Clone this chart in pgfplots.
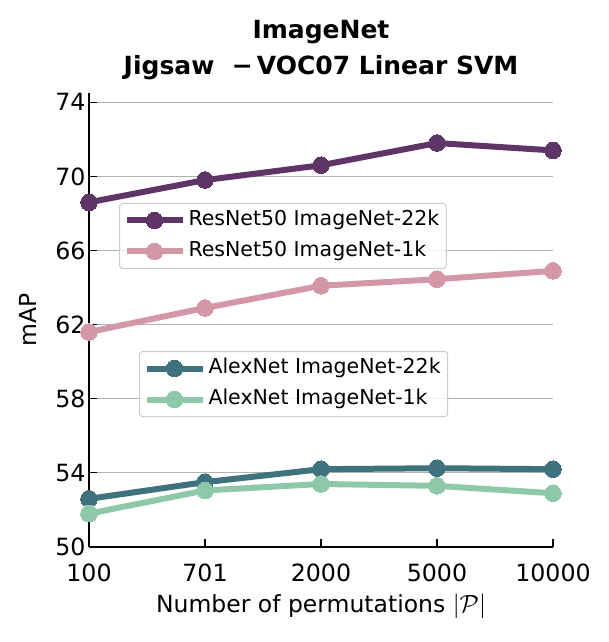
\documentclass[border=0pt]{standalone}
\usepackage{pgfplots}
\pgfplotsset{compat=1.18}
\usepackage{fontspec}
\setmainfont{DejaVu Sans}
\definecolor{cpurple}{HTML}{5E3566}
\definecolor{cpink}{HTML}{D497A7}
\definecolor{cteal}{HTML}{3E727E}
\definecolor{cgreen}{HTML}{8DC9A8}
\pgfplotsset{
  mylegend/.style={
    legend cell align=left,
    legend style={
      font=\fontsize{20.5}{24}\selectfont,
      draw=black!20, line width=1pt, rounded corners=3pt,
      fill=white, fill opacity=0.8, text opacity=1, draw opacity=1,
      inner xsep=4pt, inner ysep=4pt, row sep=5pt,
      nodes={text height=15pt, text depth=5pt, inner sep=3pt},
    },
    legend image code/.code={\draw[##1, mark repeat=2, mark phase=2, fill opacity=1, draw opacity=1] plot coordinates {(0pt,0pt) (28pt,0pt) (56pt,0pt)};},
  },
  myplot/.style={line width=6pt, mark=*, mark size=8.3pt, color=#1, mark options={solid, fill=#1, draw=#1, line width=0pt}},
}
\begin{document}
\begin{tikzpicture}
\begin{axis}[name=main, scale only axis, width=464pt, height=454pt,
  xmin=0, xmax=4, ymin=50, ymax=74.5, clip=false,
  axis x line*=bottom, axis y line*=left,
  axis line style={line width=1.3pt, -},
  xtick={0,1,2,3,4}, xticklabels={100,701,2000,5000,10000},
  ytick={50,54,58,62,66,70,74},
  tick style={black, line width=1.2pt}, major tick length=8pt, tick align=inside,
  ymajorgrids, grid style={color=black!30, line width=1.2pt},
  /pgf/number format/assume math mode=true,
  ticklabel style={font=\fontsize{23.7}{28}\selectfont},
  xticklabel style={yshift=-13pt},
  label style={font=\fontsize{23.5}{28}\selectfont},
  xlabel={Number of permutations $|\mathcal{P}|$},
  ylabel={mAP},
  xlabel shift=6pt,
  ylabel shift=12pt,
  title={ImageNet\\Jigsaw\ \ −\,VOC07 Linear SVM},
  title style={font=\bfseries\fontsize{25}{36}\selectfont, align=center, yshift=4pt},
  mylegend,
  legend style={at={(0.0647,0.7577)}, anchor=north west},
]
\addplot[myplot=cpurple] coordinates {(0,68.6) (1,69.8) (2,70.6) (3,71.8) (4,71.4)};
\addlegendentry{ResNet50 ImageNet-22k}
\addplot[myplot=cpink] coordinates {(0,61.6) (1,62.9) (2,64.1) (3,64.45) (4,64.9)};
\addlegendentry{ResNet50 ImageNet-1k}
\end{axis}
\begin{axis}[at={(main.south west)}, anchor=south west, scale only axis, width=464pt, height=454pt,
  xmin=0, xmax=4, ymin=50, ymax=74.5, clip=false, hide axis,
  mylegend,
  legend style={at={(0.1078,0.4317)}, anchor=north west},
]
\addplot[myplot=cteal] coordinates {(0,52.6) (1,53.5) (2,54.2) (3,54.25) (4,54.2)};
\addlegendentry{AlexNet ImageNet-22k}
\addplot[myplot=cgreen] coordinates {(0,51.8) (1,53.05) (2,53.4) (3,53.3) (4,52.9)};
\addlegendentry{AlexNet ImageNet-1k}
\end{axis}
\pgfresetboundingbox
\useasboundingbox ([shift={(-89pt,-95pt)}]main.south west) rectangle ([shift={(56pt,93pt)}]main.north east);
\end{tikzpicture}
\end{document}
